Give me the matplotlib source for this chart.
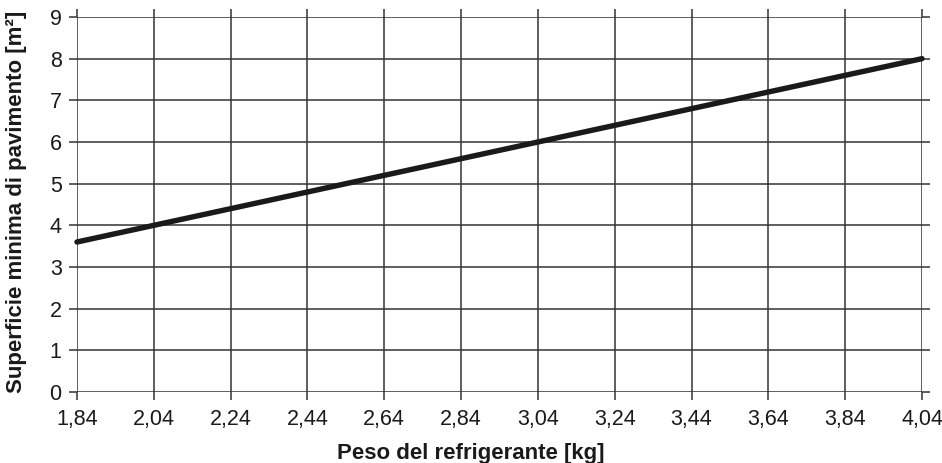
import matplotlib.pyplot as plt

plt.rcParams['font.family'] = ['Liberation Sans', 'DejaVu Sans']

# peso del refrigerante [kg] e superficie minima [m2]
peso = [1.84, 2.04, 2.24, 2.44, 2.64, 2.84, 3.04, 3.24, 3.44, 3.64, 3.84, 4.04]
superficie = [3.6, 4.0, 4.4, 4.8, 5.2, 5.6, 6.0, 6.4, 6.8, 7.2, 7.6, 8.0]
x_ticks = peso
x_labels = ['1,84', '2,04', '2,24', '2,44', '2,64', '2,84', '3,04', '3,24', '3,44', '3,64', '3,84', '4,04']
y_ticks = list(range(0, 10))

fig = plt.figure(figsize=(9.42, 4.63), dpi=100)
ax = fig.add_axes([0.0817, 0.1533, 0.8971, 0.81])

ax.plot(peso, superficie, color='#1a1a1a', linewidth=3.9, solid_capstyle='round', zorder=3, clip_on=False)

ax.set_xlim(1.84, 4.04)
ax.set_ylim(0, 9)
ax.set_xticks(x_ticks)
ax.set_xticklabels(x_labels)
ax.set_yticks(y_ticks)

for s in ax.spines.values():
    s.set_visible(False)
ax.grid(True, color='#333333', linewidth=1.1)
ax.tick_params(direction='out', length=5.5, width=1.1, color='#333333',
               top=True, right=True, labelsize=15.5, labelcolor='#1a1a1a')
ax.tick_params(axis='x', pad=6.5)
ax.tick_params(axis='y', pad=5.5)

fig.text(0.5, 0.009, 'Peso del refrigerante [kg]', fontsize=16, fontweight='bold',
         color='#1a1a1a', ha='center', va='baseline')
fig.text(0.018, 0.565, 'Superficie minima di pavimento [m²]', fontsize=16, fontweight='bold',
         color='#1a1a1a', ha='center', va='center', rotation=90)

fig.savefig('out.png', dpi=100)
